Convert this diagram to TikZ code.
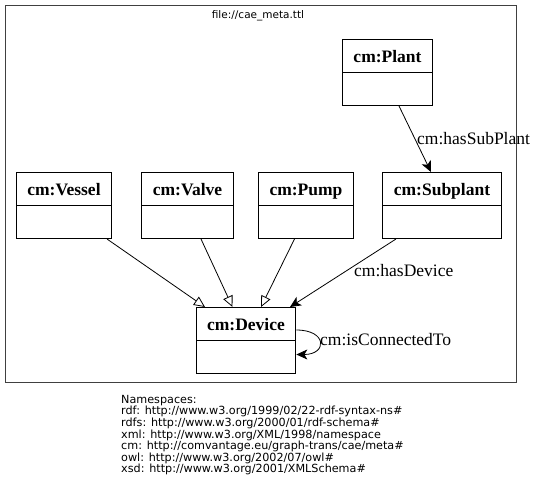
\documentclass[tikz,border=0pt]{standalone}
\usepackage{fontspec}
\setmainfont{Liberation Serif}
\newfontfamily\nsfont{DejaVu Sans}
\usetikzlibrary{shapes.multipart,arrows.meta}

\newcommand{\cls}[1]{\rule[-10pt]{0pt}{32pt}#1\nodepart{two}\rule{0pt}{32pt}}

\begin{document}
\begin{tikzpicture}
            [x=1pt,y=-1pt,
             umlclass/.style={rectangle split,rectangle split parts=2,draw,line width=1pt,
               inner xsep=11pt,inner ysep=0pt,anchor=north,
               font=\bfseries\fontsize{17.5}{20}\selectfont},
             lbl/.style={anchor=west,inner sep=0pt,font=\fontsize{17.5}{20}\selectfont},
             isa/.style={line width=0.8pt,-{Triangle[open,length=11pt,width=10pt]}},
             assoc/.style={line width=0.8pt,-{Stealth[length=11pt,width=10pt,inset=3pt]}}]
            \useasboundingbox (0,0) rectangle (541,485);
            \node[draw=black!75,line width=1.2pt,minimum width=511pt,minimum height=377pt,
                  anchor=north west,inner sep=0pt] (frame) at (4.5,5) {};
            \node[font=\nsfont\fontsize{10.5}{12}\selectfont] (title) at (258,16) {file://cae\_meta.ttl};
            % classes
            \node[umlclass] (plant)    at (387.5,39) {\cls{cm:Plant}};
            \node[umlclass] (vessel)   at (64,172)   {\cls{cm:Vessel}};
            \node[umlclass] (valve)    at (187.5,172) {\cls{cm:Valve}};
            \node[umlclass] (pump)     at (306,172)  {\cls{cm:Pump}};
            \node[umlclass] (subplant) at (442,172)  {\cls{cm:Subplant}};
            \node[umlclass] (device)   at (246,307)  {\cls{cm:Device}};
            % subclass edges
            \foreach \from/\s/\t in {vessel/43/-41,valve/13.5/-13.5,pump/-11.5/15}
            \draw[isa] ([xshift=\s pt]\from.south) -- ([xshift=\t pt]device.north);
            % properties
            \draw[assoc] ([xshift=11.5pt]plant.south) -- ([xshift=-11pt]subplant.north);
            \draw[assoc] ([xshift=-46pt]subplant.south) -- ([xshift=44pt]device.north);
            \draw[assoc] ([yshift=10.5pt]device.east) .. controls +(31,0) and +(31,0) .. ([yshift=-14pt]device.east);
            \node[lbl] (hassub)  at (417,139) {cm:hasSubPlant};
            \node[lbl] (hasdev)  at (354,271) {cm:hasDevice};
            \node[lbl] (isconn)  at (320,340) {cm:isConnectedTo};
            % namespaces
            \node[anchor=north west,inner sep=0pt,align=left,
                  font=\nsfont\fontsize{11.2}{11.6}\selectfont] (ns) at (121,395)
              {Namespaces:\\
               rdf: http://www.w3.org/1999/02/22-rdf-syntax-ns\#\\
               rdfs: http://www.w3.org/2000/01/rdf-schema\#\\
               xml: http://www.w3.org/XML/1998/namespace\\
               cm: http://comvantage.eu/graph-trans/cae/meta\#\\
               owl: http://www.w3.org/2002/07/owl\#\\
               xsd: http://www.w3.org/2001/XMLSchema\#};
        \end{tikzpicture}
\end{document}
